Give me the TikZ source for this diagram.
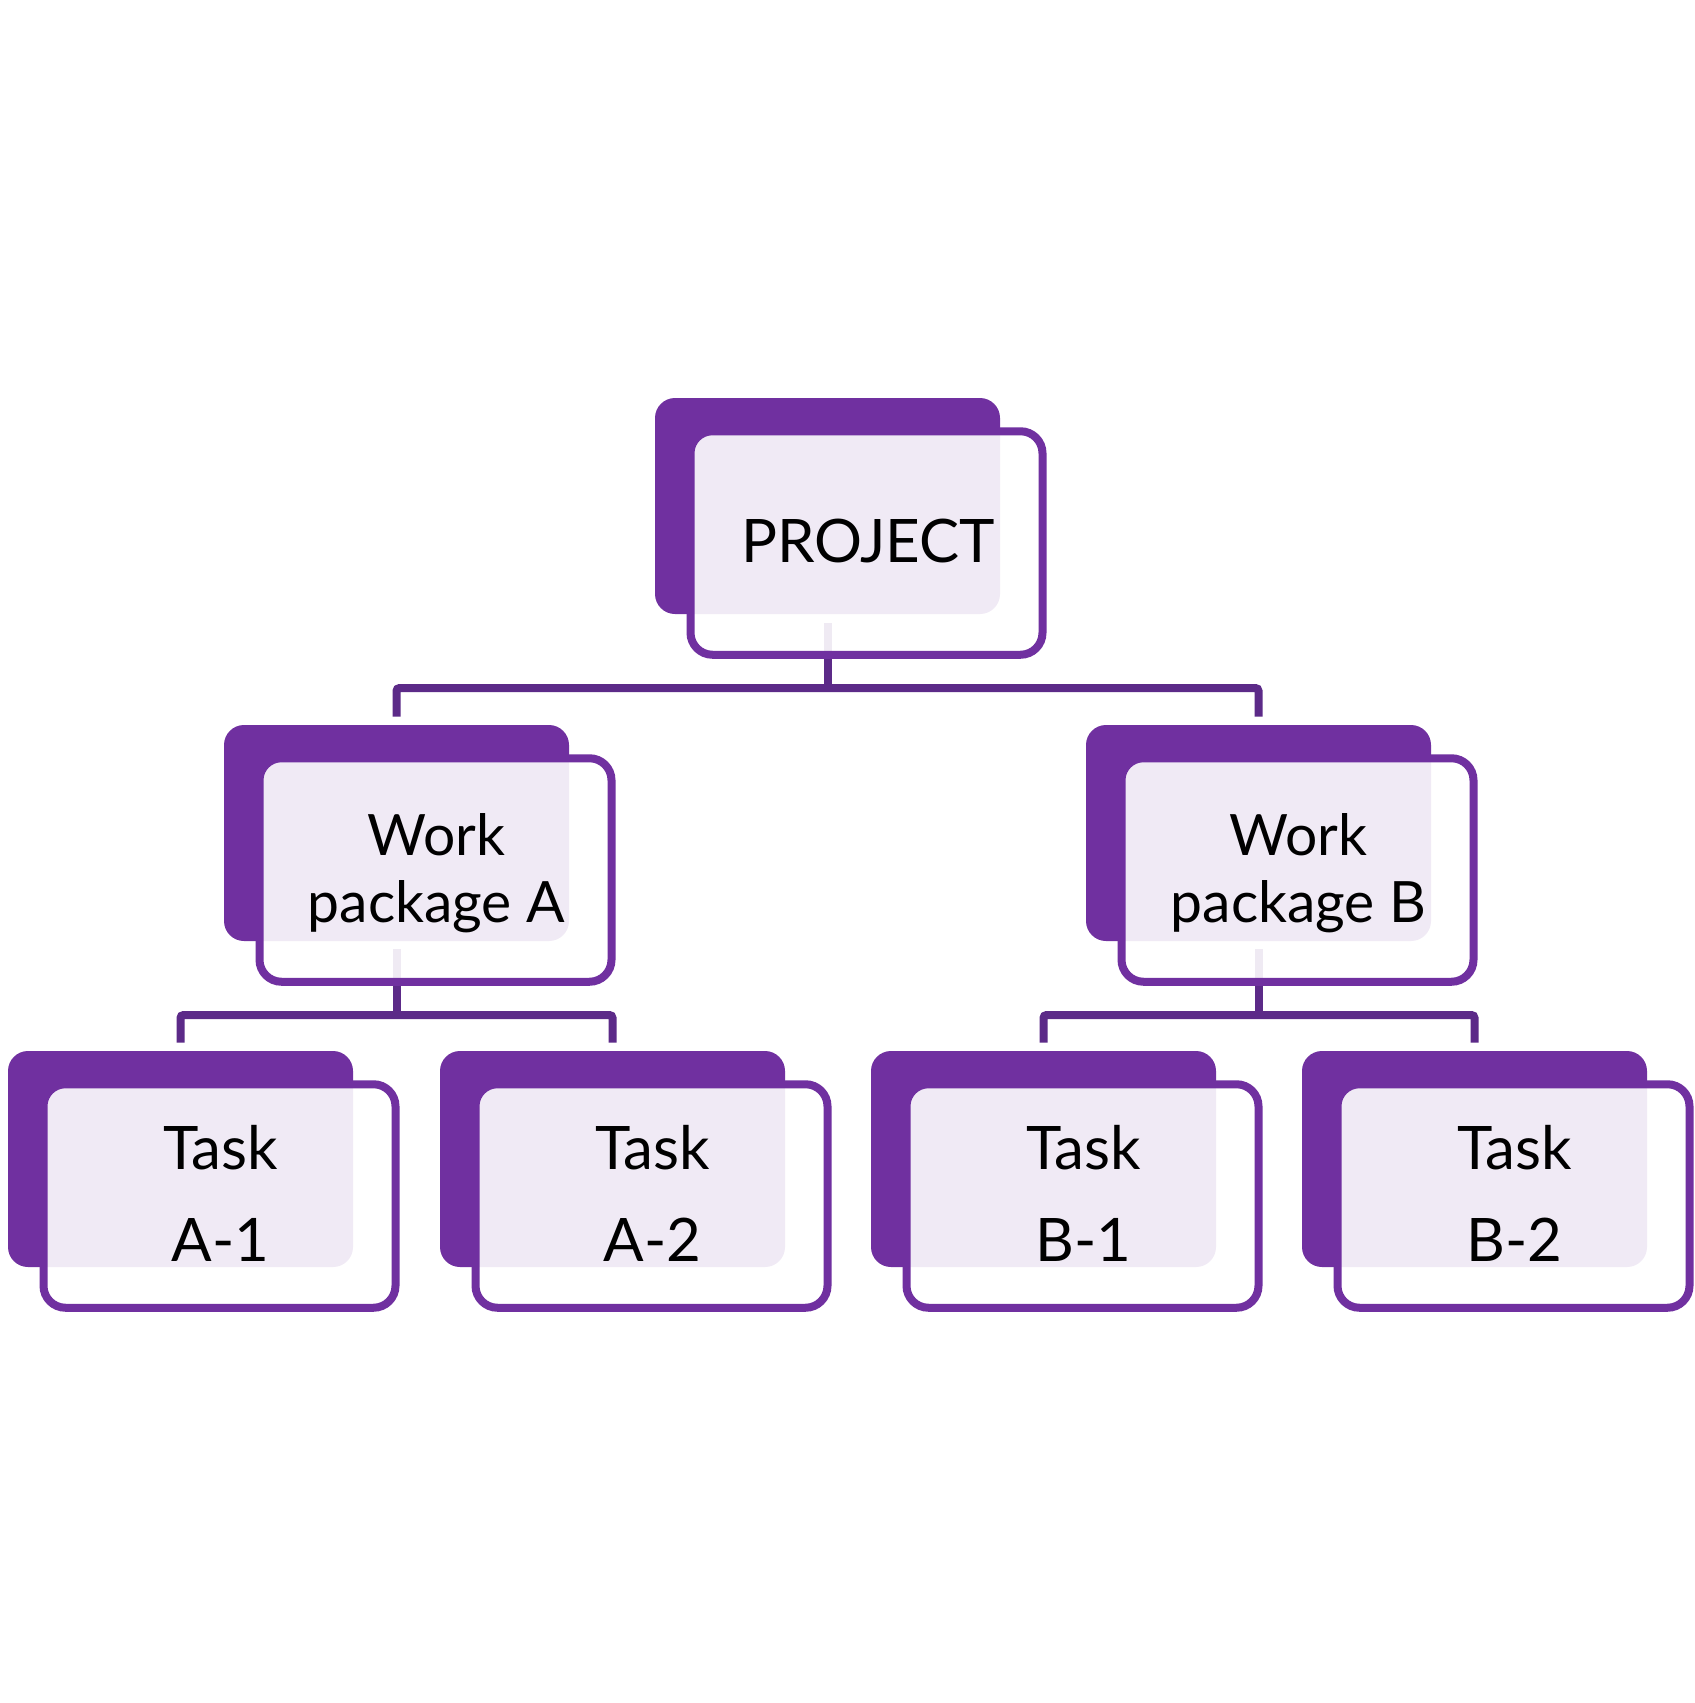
\documentclass[tikz,border=0pt]{standalone}
\usepackage{fontspec}
\setmainfont{Lato}
\definecolor{boxpurple}{HTML}{7030A0}
\definecolor{linepurple}{HTML}{5C2A88}
\tikzset{
  back/.style={fill=boxpurple, draw=none, rounded corners=10pt, minimum width=172.5pt, minimum height=108pt, inner sep=0pt},
  front/.style={draw=boxpurple, line width=4pt, fill=white, fill opacity=0.9, draw opacity=1, rounded corners=11pt, minimum width=176pt, minimum height=111.75pt, inner sep=0pt},
  lbl/.style={font=\fontsize{30}{33.5}\selectfont, align=center, text=black, text opacity=1, inner sep=0pt, anchor=base},
  wplbl/.style={lbl, font=\fontsize{28.5}{33.5}\selectfont},
  tasklbl/.style={lbl, font=\fontsize{30}{46}\selectfont},
  conn/.style={draw=linepurple, line width=4pt, rounded corners=1.5pt}
}
\begin{document}
\begin{tikzpicture}[x=0.5pt, y=-0.5pt]
\fill[white] (0,0) rectangle (1694,1703);
\useasboundingbox (0,0) rectangle (1694,1703);

% back boxes
\node[back] (pD)  at (827.5,506) {};
\node[back] (waD) at (396.5,833) {};
\node[back] (wbD) at (1258.5,833) {};
\node[back] (t1D) at (180.5,1159) {};
\node[back] (t2D) at (612.5,1159) {};
\node[back] (t3D) at (1043.5,1159) {};
\node[back] (t4D) at (1474.5,1159) {};

% junctions
\coordinate (j1) at (827.5,688);
\coordinate (j2) at (396.5,1015);
\coordinate (j3) at (1258.5,1015);

% connectors (under front boxes)
\draw[conn] ([shift={(0,9)}]pD.south) -- (j1);
\draw[conn] ([shift={(0,-8)}]waD.north) |- (j1) -| ([shift={(0,-8)}]wbD.north);
\draw[conn] ([shift={(0,8)}]waD.south) -- (j2);
\draw[conn] ([shift={(0,-8)}]t1D.north) |- (j2) -| ([shift={(0,-8)}]t2D.north);
\draw[conn] ([shift={(0,8)}]wbD.south) -- (j3);
\draw[conn] ([shift={(0,-8)}]t3D.north) |- (j3) -| ([shift={(0,-8)}]t4D.north);

% front boxes
\node[front] (p)  at ([shift={(39,37)}]pD.center) {};
\node[front] (wa) at ([shift={(39,37)}]waD.center) {};
\node[front] (wb) at ([shift={(39,37)}]wbD.center) {};
\node[front] (t1) at ([shift={(39,37)}]t1D.center) {};
\node[front] (t2) at ([shift={(39,37)}]t2D.center) {};
\node[front] (t3) at ([shift={(39,37)}]t3D.center) {};
\node[front] (t4) at ([shift={(39,37)}]t4D.center) {};

% labels (base = baseline of the last line)
\node[lbl] (pL) at ([shift={(40.5,56)}]pD.center) {PROJECT};
\node[wplbl] (waL) at ([shift={(40,89)}]waD.center) {Work\\package A};
\node[wplbl] (wbL) at ([shift={(40,89)}]wbD.center) {Work\\package B};
\node[tasklbl] (t1L) at ([shift={(40,102)}]t1D.center) {Task\\A-1};
\node[tasklbl] (t2L) at ([shift={(40,102)}]t2D.center) {Task\\A-2};
\node[tasklbl] (t3L) at ([shift={(40,102)}]t3D.center) {Task\\B-1};
\node[tasklbl] (t4L) at ([shift={(40,102)}]t4D.center) {Task\\B-2};
\end{tikzpicture}
\end{document}
